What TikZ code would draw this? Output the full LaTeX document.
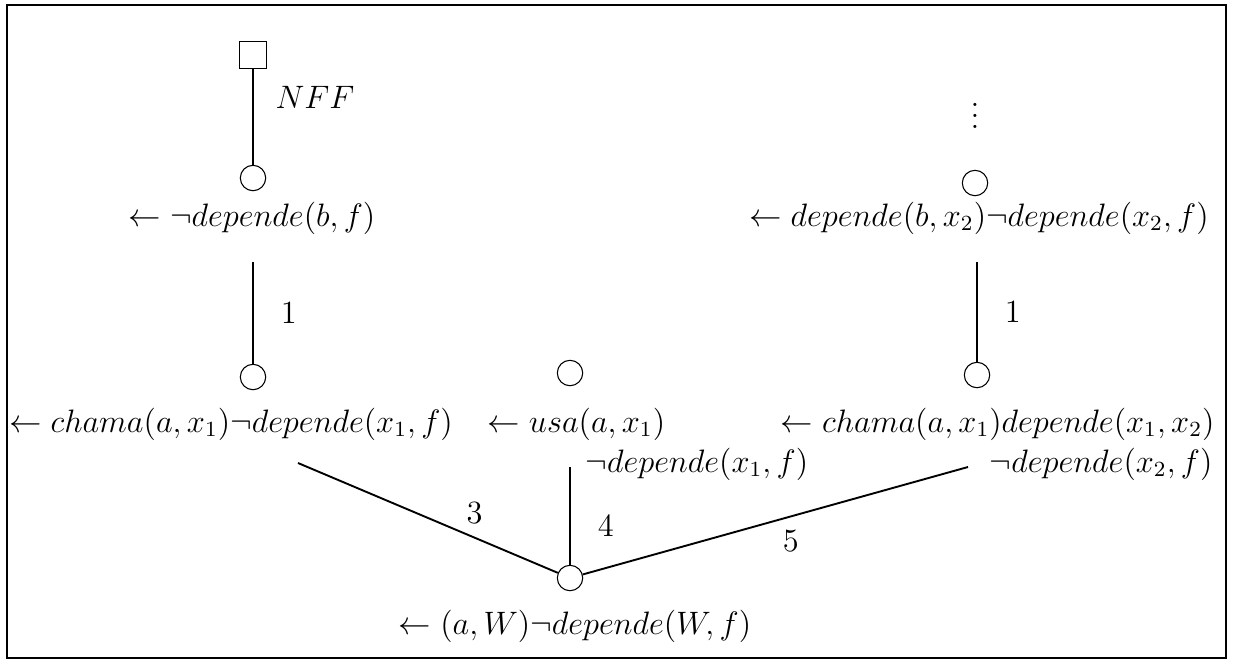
\documentclass[tikz,border=0pt,12pt]{standalone}
\usepackage{amsmath,amssymb}
\usepackage{tikz}
\usetikzlibrary{positioning}
\tikzset{
  goal/.style={draw,circle,inner sep=0pt,minimum size=9.4pt},
  emptygoal/.style={draw,rectangle,inner sep=0pt,minimum size=10pt},
  clause/.style={inner sep=0pt,anchor=base},
  edge/.style={line width=0.7pt},
}

\begin{document}
\begin{tikzpicture}[x=0.37pt,y=-0.37pt]
  \useasboundingbox (0,0) rectangle (1234,671);
  \draw[line width=0.9pt] (7,5) rectangle (1226,658);
  % left branch
  \node[emptygoal] (box) at (253,55) {};
  \node[goal] (g1) at (253,178) {};
  \node[clause] (c1) at (252,226) {$\leftarrow \neg depende(b,f)$};
  \node[goal] (g2) at (253,377) {};
  \node[clause] (c2) at (231,432) {$\leftarrow chama(a,x_1)\neg depende(x_1,f)$};
  % middle branch
  \node[goal] (g3) at (570,373) {};
  \node[clause,anchor=base west] (c3a) at (487,432) {$\leftarrow usa(a,x_1)$};
  \node[clause,anchor=base west] (c3b) at (585,472) {$\neg depende(x_1,f)$};
  % right branch
  \node (dots) at (975,108) {$\vdots$};
  \node[goal] (g4) at (975,183) {};
  \node[clause] (c4) at (979,226) {$\leftarrow depende(b,x_2)\neg depende(x_2,f)$};
  \node[goal] (g5) at (977,375) {};
  \node[clause,anchor=base east] (c5a) at (1215,432) {$\leftarrow chama(a,x_1)depende(x_1,x_2)$};
  \node[clause,anchor=base east] (c5b) at (1213,472) {$\neg depende(x_2,f)$};
  % root
  \node[goal] (g6) at (570,578) {};
  \node[clause] (c6) at (575,634) {$\leftarrow (a,W)\neg depende(W,f)$};

  \coordinate (e1) at (253,262);
  \coordinate (e2) at (977,262);
  \coordinate (e3) at (298,463);
  \coordinate (e4) at (570,467);
  \coordinate (e5) at (968,467);

  \draw[edge] (box) -- node[pos=.3,right=4pt] {$NFF$} (g1);
  \draw[edge] (e1) -- node[midway,right=6pt] {$1$} (g2);
  \draw[edge] (e2) -- node[midway,right=6pt] {$1$} (g5);
  \draw[edge] (e3) -- node[pos=.68,above=1pt] {$3$} (g6);
  \draw[edge] (e4) -- node[pos=.6,right=6pt] {$4$} (g6);
  \draw[edge] (e5) -- node[pos=.46,below=1pt] {$5$} (g6);
\end{tikzpicture}
\end{document}
